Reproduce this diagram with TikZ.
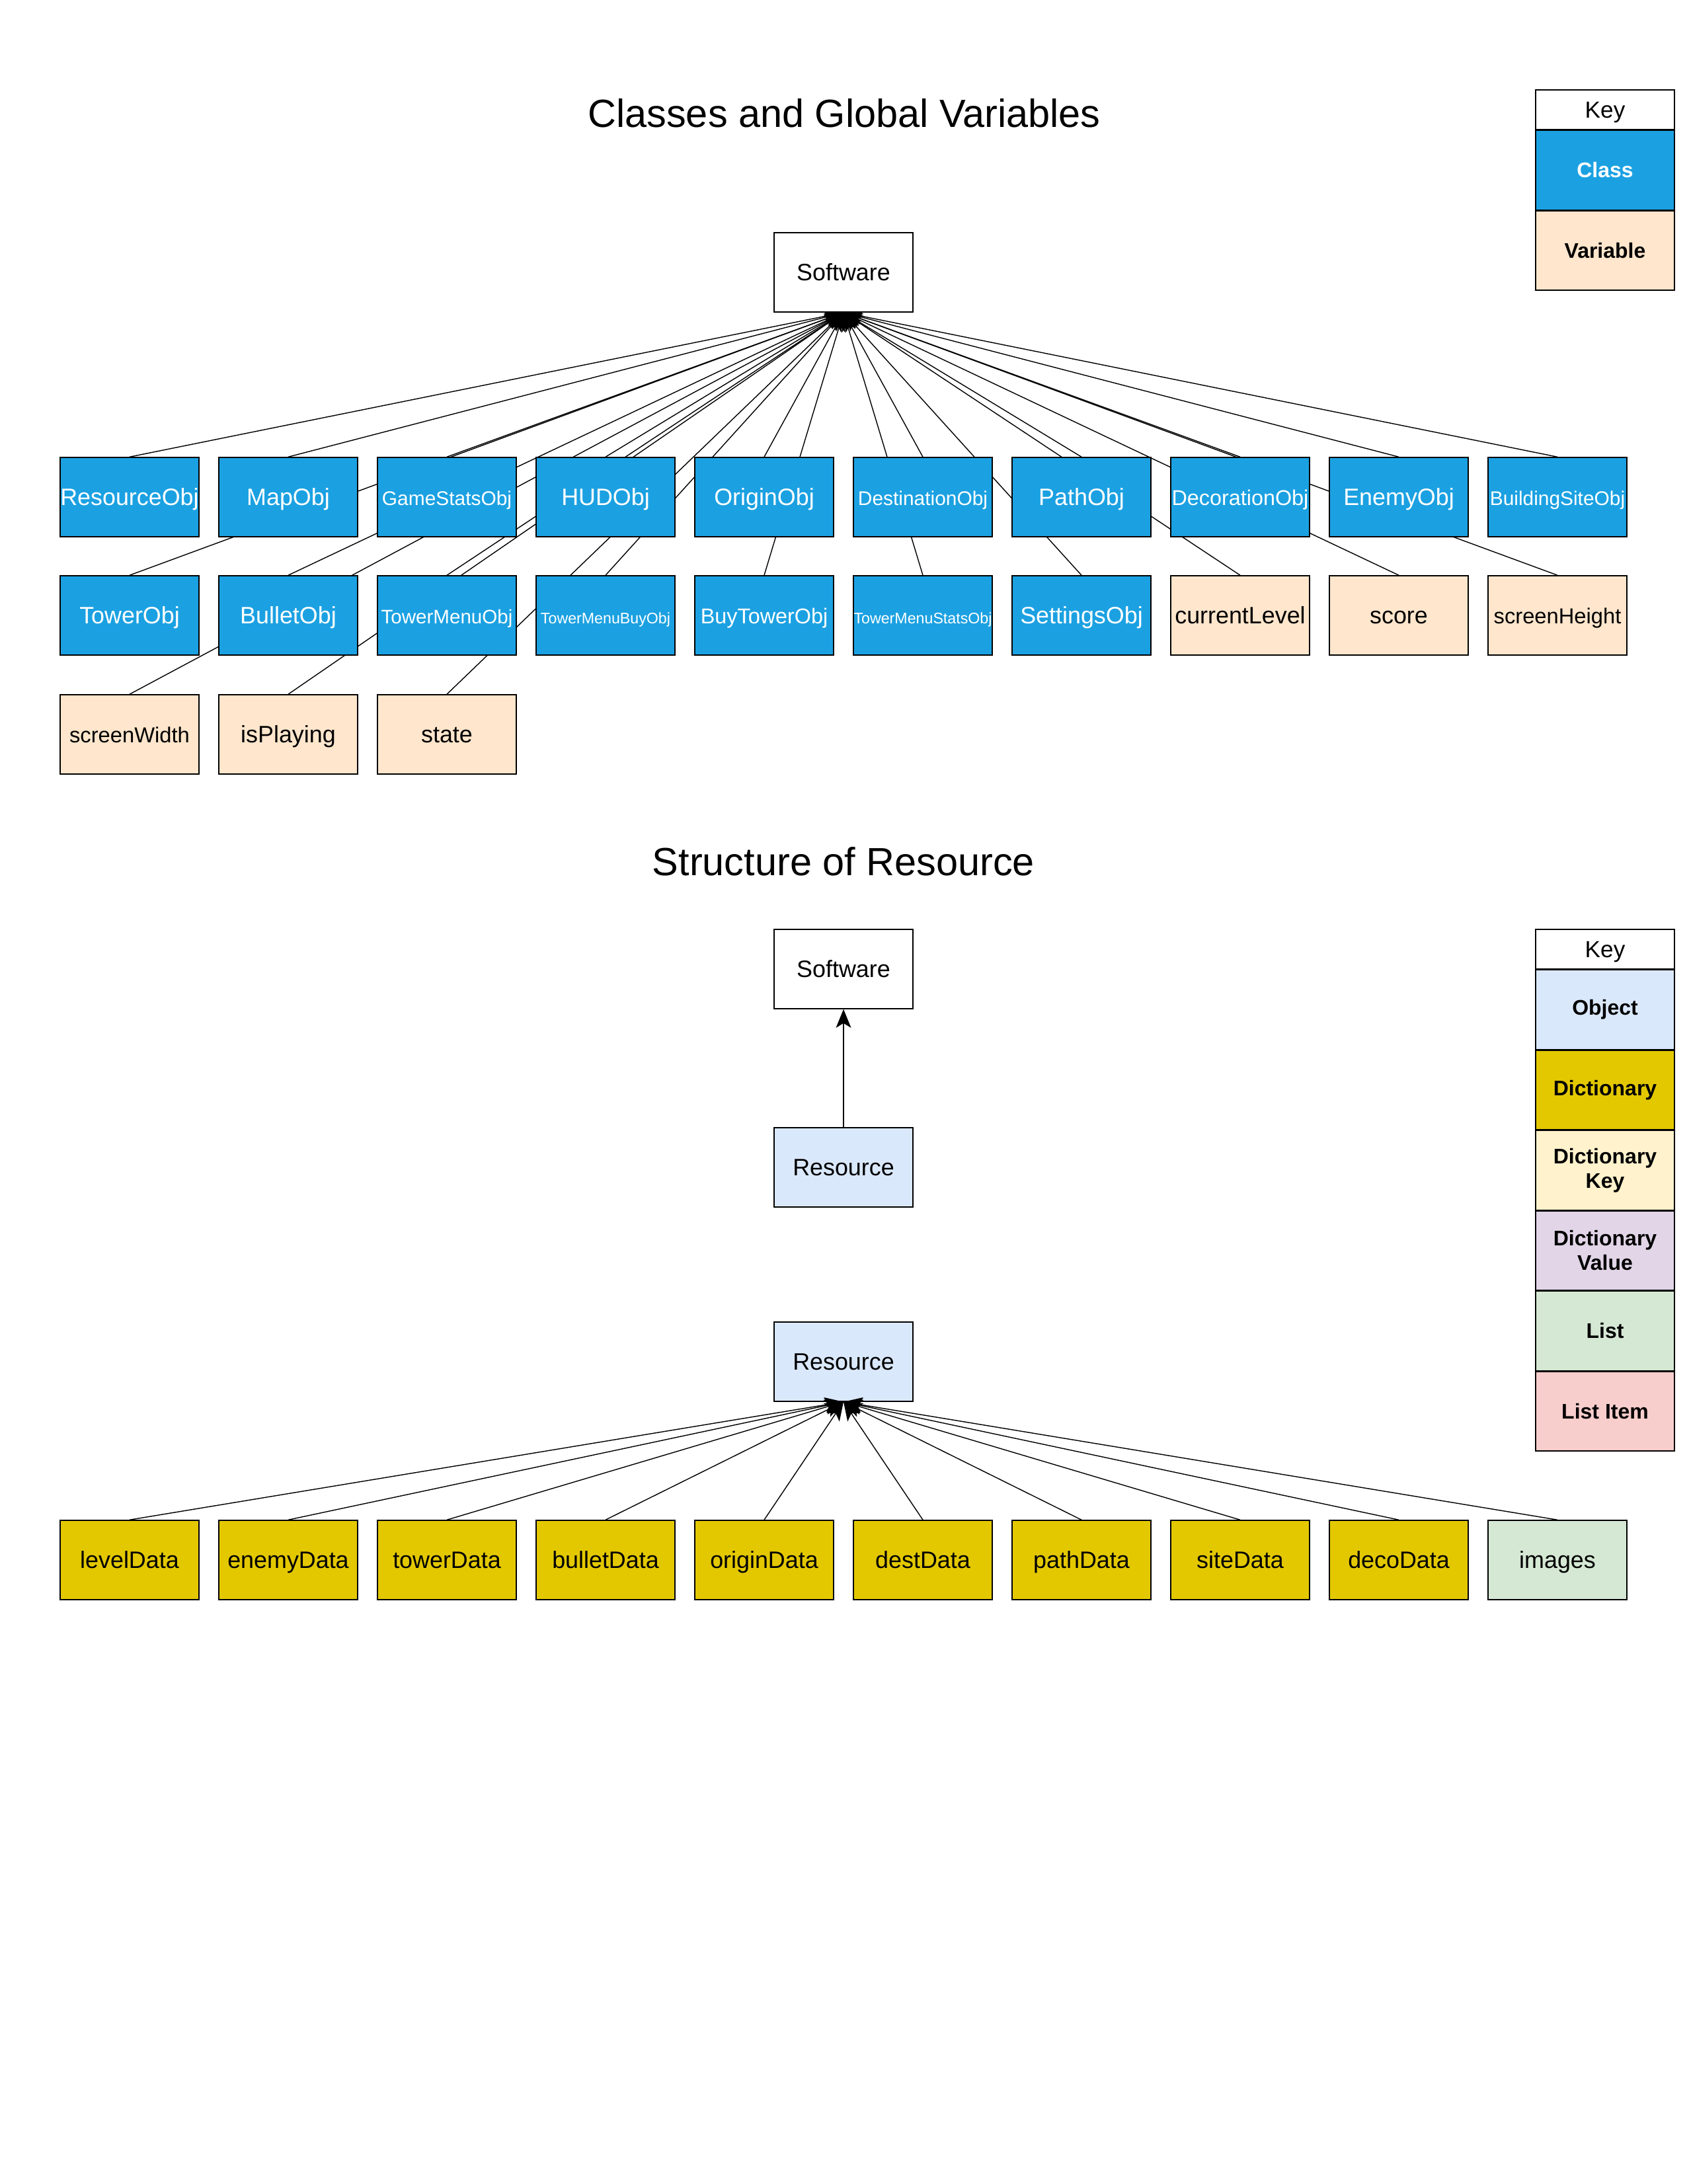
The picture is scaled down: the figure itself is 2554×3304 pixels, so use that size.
\documentclass[tikz,border=0pt]{standalone}
\usepackage{fontspec}
\setmainfont{Liberation Sans}
\usepackage{tikz}
\usetikzlibrary{arrows.meta}
\usetikzlibrary{positioning,backgrounds}
\definecolor{classblue}{HTML}{1BA1E2}
\definecolor{varpeach}{HTML}{FFE6CC}
\definecolor{objblue}{HTML}{DAE8FC}
\definecolor{dictyellow}{HTML}{E3C800}
\definecolor{dictkey}{HTML}{FFF2CC}
\definecolor{dictval}{HTML}{E1D5E7}
\definecolor{listgreen}{HTML}{D5E8D4}
\definecolor{itemred}{HTML}{F8CECC}
\tikzset{auto, >={Stealth[length=8pt,width=6.5pt,inset=2pt]}, x=0.01cm, y=-0.01cm, line width=0.85pt, node distance=0cm, font=\fontsize{10.2}{12}\selectfont}
\tikzstyle{block} = [draw, fill=white, rectangle, minimum width=2.1cm, minimum height=1.2cm, inner sep=0pt, text height=0.905em, text depth=0.212em, text centered, align=center]
\tikzstyle{cls} = [block, fill=classblue, text=white]
\tikzstyle{var} = [block, fill=varpeach]
\tikzstyle{obj} = [block, fill=objblue]
\tikzstyle{dict} = [block, fill=dictyellow]
\tikzstyle{lst} = [block, fill=listgreen]
\tikzstyle{title} = [font=\fontsize{16.9}{20}\selectfont]
\tikzstyle{keyhead} = [draw, fill=white, rectangle, minimum width=2.1cm, minimum height=0.6cm, inner sep=0pt, text height=0.905em, text depth=0.212em, font=\fontsize{10}{12}\selectfont]
\tikzstyle{keyitem} = [draw, rectangle, minimum width=2.1cm, minimum height=1.2cm, inner sep=0pt, align=center, font=\fontsize{9.1}{10.5}\selectfont\bfseries]

\begin{document}
\begin{tikzpicture}
		\useasboundingbox (0,0) rectangle (2554,3304);

		% classes and global variables
		\node [title] (title-classes) at (1277,171) {Classes and Global Variables};
		\node [block] (software) at (1276,412) {Software};

		\node [cls] (resourceobj) at (196,752) {ResourceObj};
		\node [cls] (mapobj) at (436,752) {MapObj};
		\node [cls, font=\fontsize{8.5}{10}\selectfont] (gamestatsobj) at (676,752) {GameStatsObj};
		\node [cls] (hudobj) at (916,752) {HUDObj};
		\node [cls] (originobj) at (1156,752) {OriginObj};
		\node [cls, font=\fontsize{8.5}{10}\selectfont] (destinationobj) at (1396,752) {DestinationObj};
		\node [cls] (pathobj) at (1636,752) {PathObj};
		\node [cls, font=\fontsize{9.2}{11}\selectfont] (decorationobj) at (1876,752) {DecorationObj};
		\node [cls] (enemyobj) at (2116,752) {EnemyObj};
		\node [cls, font=\fontsize{8.5}{10}\selectfont] (buildingsiteobj) at (2356,752) {BuildingSiteObj};

		\node [cls] (towerobj) at (196,931) {TowerObj};
		\node [cls] (bulletobj) at (436,931) {BulletObj};
		\node [cls, font=\fontsize{8.4}{10}\selectfont] (towermenuobj) at (676,931) {TowerMenuObj};
		\node [cls, font=\fontsize{6.6}{8}\selectfont] (towermenubuyobj) at (916,931) {TowerMenuBuyObj};
		\node [cls, font=\fontsize{9.2}{11}\selectfont] (buytowerobj) at (1156,931) {BuyTowerObj};
		\node [cls, font=\fontsize{6.6}{8}\selectfont] (towermenustatsobj) at (1396,931) {TowerMenuStatsObj};
		\node [cls] (settingsobj) at (1636,931) {SettingsObj};
		\node [var] (currentlevel) at (1876,931) {currentLevel};
		\node [var] (score) at (2116,931) {score};
		\node [var, font=\fontsize{9.3}{11}\selectfont] (screenheight) at (2356,931) {screenHeight};

		\node [var, font=\fontsize{9.3}{11}\selectfont] (screenwidth) at (196,1111) {screenWidth};
		\node [var] (isplaying) at (436,1111) {isPlaying};
		\node [var] (state) at (676,1111) {state};

		\node [keyhead] (key-head) at (2428,166) {Key};
		\node [keyitem, fill=classblue, text=white, below=of key-head] (key-class) {Class};
		\node [keyitem, fill=varpeach, below=of key-class] (key-variable) {Variable};

		\begin{scope}[on background layer]
		\draw [->] (resourceobj.north) -- (software.south);
		\draw [->] (mapobj.north) -- (software.south);
		\draw [->] (gamestatsobj.north) -- (software.south);
		\draw [->] (hudobj.north) -- (software.south);
		\draw [->] (originobj.north) -- (software.south);
		\draw [->] (destinationobj.north) -- (software.south);
		\draw [->] (pathobj.north) -- (software.south);
		\draw [->] (decorationobj.north) -- (software.south);
		\draw [->] (enemyobj.north) -- (software.south);
		\draw [->] (buildingsiteobj.north) -- (software.south);
		\draw [->] (towerobj.north) -- (software.south);
		\draw [->] (bulletobj.north) -- (software.south);
		\draw [->] (towermenuobj.north) -- (software.south);
		\draw [->] (towermenubuyobj.north) -- (software.south);
		\draw [->] (buytowerobj.north) -- (software.south);
		\draw [->] (towermenustatsobj.north) -- (software.south);
		\draw [->] (settingsobj.north) -- (software.south);
		\draw [->] (currentlevel.north) -- (software.south);
		\draw [->] (score.north) -- (software.south);
		\draw [->] (screenheight.north) -- (software.south);
		\draw [->] (screenwidth.north) -- (software.south);
		\draw [->] (isplaying.north) -- (software.south);
		\draw [->] (state.north) -- (software.south);
		\end{scope}

		% structure of resource
		\node [title] (title-resource) at (1276,1303) {Structure of Resource};
		\node [block] (software-2) at (1276,1466) {Software};
		\node [obj] (resource) at (1276,1766) {Resource};
		\node [obj] (resource-2) at (1276,2060) {Resource};

		\node [dict] (leveldata) at (196,2360) {levelData};
		\node [dict] (enemydata) at (436,2360) {enemyData};
		\node [dict] (towerdata) at (676,2360) {towerData};
		\node [dict] (bulletdata) at (916,2360) {bulletData};
		\node [dict] (origindata) at (1156,2360) {originData};
		\node [dict] (destdata) at (1396,2360) {destData};
		\node [dict] (pathdata) at (1636,2360) {pathData};
		\node [dict] (sitedata) at (1876,2360) {siteData};
		\node [dict] (decodata) at (2116,2360) {decoData};
		\node [lst] (images) at (2356,2360) {images};

		\node [keyhead] (key2-head) at (2428,1436) {Key};
		\node [keyitem, fill=objblue, below=of key2-head] (key2-object) {Object};
		\node [keyitem, fill=dictyellow, below=of key2-object] (key2-dict) {Dictionary};
		\node [keyitem, fill=dictkey, below=of key2-dict] (key2-dictkey) {Dictionary\\Key};
		\node [keyitem, fill=dictval, below=of key2-dictkey] (key2-dictvalue) {Dictionary\\Value};
		\node [keyitem, fill=listgreen, below=of key2-dictvalue] (key2-list) {List};
		\node [keyitem, fill=itemred, below=of key2-list] (key2-listitem) {List Item};

		\draw [->] (resource) -- (software-2);
		\draw [->] (leveldata.north) -- (resource-2.south);
		\draw [->] (enemydata.north) -- (resource-2.south);
		\draw [->] (towerdata.north) -- (resource-2.south);
		\draw [->] (bulletdata.north) -- (resource-2.south);
		\draw [->] (origindata.north) -- (resource-2.south);
		\draw [->] (destdata.north) -- (resource-2.south);
		\draw [->] (pathdata.north) -- (resource-2.south);
		\draw [->] (sitedata.north) -- (resource-2.south);
		\draw [->] (decodata.north) -- (resource-2.south);
		\draw [->] (images.north) -- (resource-2.south);
	\end{tikzpicture}
\end{document}
